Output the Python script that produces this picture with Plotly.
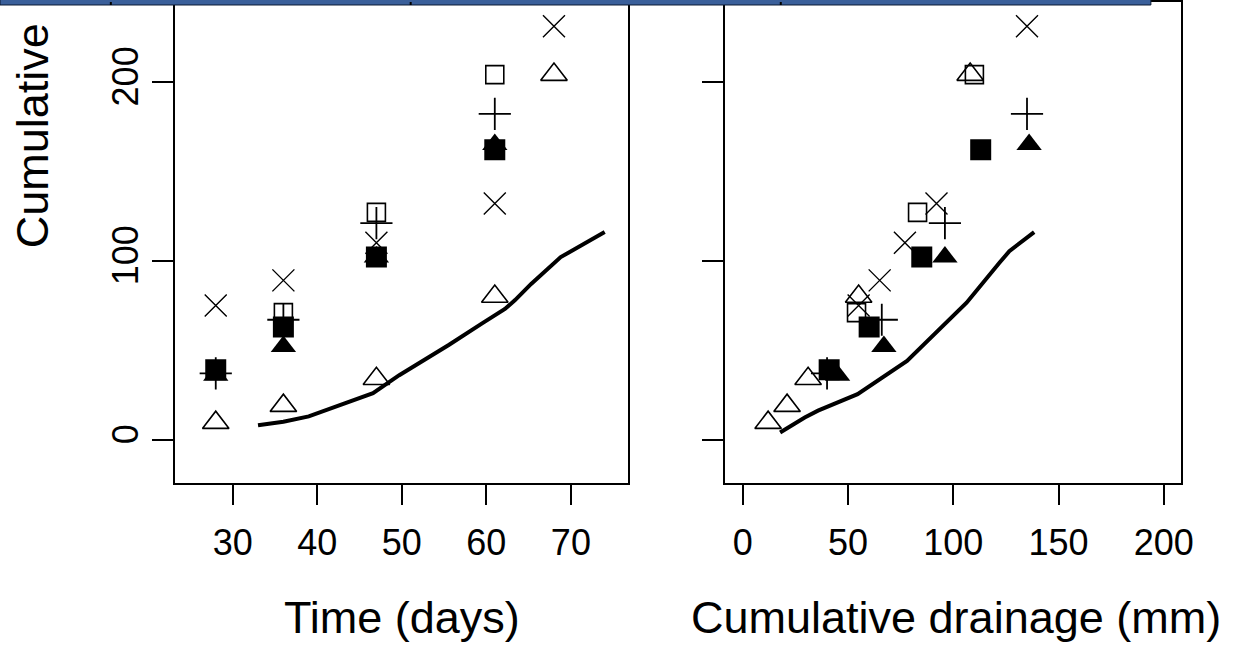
import plotly.graph_objects as go

# ---------------- data ----------------
# observed series (time in days, cumulative drainage in mm, cumulative value)
otri_time = [28, 36, 47, 61, 68]
otri_drain = [12, 21, 31, 55, 108]
otri_val = [9.5, 19, 34, 80, 204]

xs_time = [28, 36, 47, 61, 68]
xs_drain = [55, 65, 77, 92, 135]
xs_val = [75, 89, 110, 132, 231]

osq_time = [36, 47, 61]
osq_drain = [54, 83, 110]
osq_val = [71, 127, 204]

fsq_time = [28, 36, 47, 61]
fsq_drain = [41, 60, 85, 113]
fsq_val = [39, 63, 102, 162]

ftri_time = [28, 36, 47, 61]
ftri_drain = [45, 67, 96, 136]
ftri_val = [36, 52, 102, 165]

plus_time = [28, 36, 47, 61]
plus_drain = [40, 66, 96, 135]
plus_val = [37, 67, 121, 182]

# simulated curve
sim_time = [33, 36, 39, 42, 46.6, 49.7, 55.6, 59.5, 62.2, 63.4, 65.3, 68.8, 74]
sim_time_val = [8, 10, 13, 18, 26, 36, 53, 65, 73, 78, 87, 102, 116]
sim_drain = [17.7, 29.4, 35.7, 54.5, 78, 90.6, 106.3, 121.9, 126.6, 138.4]
sim_drain_val = [4, 12.4, 16.2, 25.4, 44, 58.7, 76.5, 98.8, 105.3, 116]

x1_ticks = [30, 40, 50, 60, 70]
x2_ticks = [0, 50, 100, 150, 200]
y_ticks = [0, 100, 200]

# ---------------- figure ----------------
W, H = 1247, 648
FONT = "Arial, 'Liberation Sans', sans-serif"

fig = go.Figure()

def add_markers(xa, ya, xs, ys, symbol, size, filled, lw=1.6):
    fig.add_trace(go.Scatter(
        x=xs, y=ys, mode="markers", xaxis=xa, yaxis=ya, showlegend=False,
        marker=dict(symbol=symbol, size=size, color="black",
                    line=dict(color="black", width=0 if filled else lw))))

panels = [
    ("x", "y", otri_time, xs_time, osq_time, fsq_time, ftri_time, plus_time, sim_time, sim_time_val),
    ("x2", "y2", otri_drain, xs_drain, osq_drain, fsq_drain, ftri_drain, plus_drain, sim_drain, sim_drain_val),
]
for xa, ya, ot, xx, os_, fs, ft, pl, sx, sy in panels:
    add_markers(xa, ya, ot, otri_val, "triangle-up-open", 23, False)
    add_markers(xa, ya, xx, xs_val, "x-thin-open", 22, False, 1.4)
    add_markers(xa, ya, os_, osq_val, "square-open", 18, False)
    add_markers(xa, ya, pl, plus_val, "cross-thin-open", 23, False, 1.8)
    add_markers(xa, ya, fs, fsq_val, "square", 21, True)
    add_markers(xa, ya, ft, ftri_val, "triangle-up", 22, True)
    fig.add_trace(go.Scatter(x=sx, y=sy, mode="lines", xaxis=xa, yaxis=ya,
                             showlegend=False,
                             line=dict(color="black", width=4)))

axis_common = dict(showline=True, mirror=True, linecolor="black", linewidth=1.6,
                   ticks="outside", ticklen=21, tickwidth=1.5, tickcolor="black",
                   showgrid=False, zeroline=False,
                   tickfont=dict(family=FONT, size=36, color="black"))

ydom = [1 - 482 / H, 1]
fig.update_layout(
    width=W, height=H, margin=dict(l=0, r=0, t=0, b=0),
    paper_bgcolor="white", plot_bgcolor="white",
    xaxis=dict(domain=[177 / W, 635 / W], range=[23.2, 76.8], tickvals=x1_ticks,
               ticklabelstandoff=6, anchor="y", **axis_common),
    xaxis2=dict(domain=[732.7 / W, 1193.3 / W], range=[-8.46, 208.1], tickvals=x2_ticks,
                ticklabelstandoff=6, anchor="y2", **axis_common),
    yaxis=dict(domain=ydom, range=[-23.96, 244.57], tickvals=y_ticks, tickangle=-90,
               anchor="x", **axis_common),
    yaxis2=dict(domain=ydom, range=[-23.96, 244.57], tickvals=y_ticks, matches="y",
                showticklabels=False, anchor="x2", **axis_common),
)

title_font = dict(family=FONT, size=45, color="black")
fig.add_annotation(text="Time (days)", xref="paper", yref="paper",
                   x=406 / W, y=1 - 617 / H, xanchor="center", yanchor="middle",
                   showarrow=False, font=title_font)
fig.add_annotation(text="Cumulative drainage (mm)", xref="paper", yref="paper",
                   x=966 / W, y=1 - 617 / H, xanchor="center", yanchor="middle",
                   showarrow=False, font=title_font)
fig.add_annotation(text="Cumulative", xref="paper", yref="paper",
                   x=33 / W, y=1 - 134 / H, xanchor="center", yanchor="middle",
                   textangle=-90, showarrow=False, font=title_font)

# dark blue strip across the top edge
fig.add_shape(type="rect", xref="paper", yref="paper", x0=0, x1=1163 / W,
              y0=1 - 3 / H, y1=1.01, fillcolor="#3A5F9A",
              line=dict(color="#0b1a33", width=1), layer="above")
for sx_ in [112, 415, 789]:
    fig.add_shape(type="line", xref="paper", yref="paper", x0=sx_ / W, x1=sx_ / W,
                  y0=1 - 3 / H, y1=1, line=dict(color="black", width=2), layer="above")

fig.write_html("out.html")
